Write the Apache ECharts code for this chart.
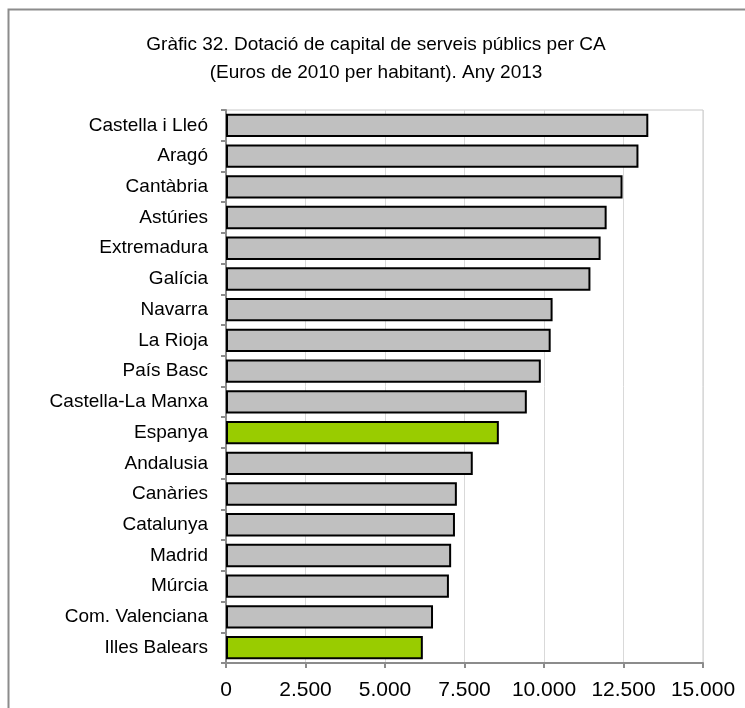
<!DOCTYPE html>
<html>
<head>
<meta charset="utf-8">
<script src="https://cdn.jsdelivr.net/npm/echarts@6/dist/echarts.min.js"></script>
<style>
  html, body { margin: 0; padding: 0; background: #fff; }
  #chart { width: 745px; height: 708px; }
</style>
</head>
<body>
<div id="chart"></div>
<script>
// Comunitats autònomes, de més a menys dotació
const regions = [
  'Castella i Lleó', 'Aragó', 'Cantàbria', 'Astúries', 'Extremadura', 'Galícia',
  'Navarra', 'La Rioja', 'País Basc', 'Castella-La Manxa', 'Espanya', 'Andalusia',
  'Canàries', 'Catalunya', 'Madrid', 'Múrcia', 'Com. Valenciana', 'Illes Balears'
];
// Euros de 2010 per habitant, any 2013
const values = [
  13280, 12970, 12470, 11970, 11780, 11460,
  10270, 10210, 9900, 9460, 8580, 7760,
  7260, 7200, 7080, 7010, 6510, 6190
];
// Barres destacades en verd
const highlighted = ['Espanya', 'Illes Balears'];
const xTicks = { min: 0, max: 15000, interval: 2500 };

const fmt = v => String(v).replace(/\B(?=(\d{3})+(?!\d))/g, '.');
const font = 'Liberation Sans, Arial, sans-serif';

const chart = echarts.init(document.getElementById('chart'), null, { renderer: 'canvas' });
chart.setOption({
  animation: false,
  backgroundColor: '#fff',
  graphic: [{
    type: 'rect',
    shape: { x: 8.5, y: 9.5, width: 900, height: 900 },
    style: { fill: 'none', stroke: '#8c8c8c', lineWidth: 2 },
    silent: true
  }],
  title: {
    text: 'Gràfic 32. Dotació de capital de serveis públics per CA\n(Euros de 2010 per habitant). Any 2013',
    left: 376, top: 31, textAlign: 'center', padding: 0,
    textStyle: { fontFamily: font, fontSize: 19, fontWeight: 'normal', color: '#000', lineHeight: 28 }
  },
  grid: { left: 226, right: 42, top: 110, bottom: 45, show: true, borderColor: '#c8c8c8', borderWidth: 1 },
  xAxis: {
    type: 'value',
    min: xTicks.min, max: xTicks.max, interval: xTicks.interval,
    axisLine: { show: true, lineStyle: { color: '#8c8c8c', width: 2 } },
    axisTick: { show: true, length: 5, lineStyle: { color: '#8c8c8c', width: 2 } },
    splitLine: { show: true, lineStyle: { color: '#d9d9d9', width: 1 } },
    axisLabel: { formatter: fmt, color: '#000', fontFamily: font, fontSize: 21, margin: 17 }
  },
  yAxis: {
    type: 'category',
    data: regions,
    inverse: true,
    axisLine: { show: true, lineStyle: { color: '#8c8c8c', width: 2 } },
    axisTick: { show: true, length: 5, lineStyle: { color: '#8c8c8c', width: 2 } },
    axisLabel: { color: '#000', fontFamily: font, fontSize: 19, margin: 18 },
    splitLine: { show: false }
  },
  series: [{
    type: 'bar',
    data: values.map((v, i) => ({
      value: v,
      itemStyle: { color: highlighted.includes(regions[i]) ? '#99cc00' : '#c0c0c0' }
    })),
    barCategoryGap: '24%',
    itemStyle: { borderColor: '#000', borderWidth: 2 }
  }]
});
</script>
</body>
</html>
